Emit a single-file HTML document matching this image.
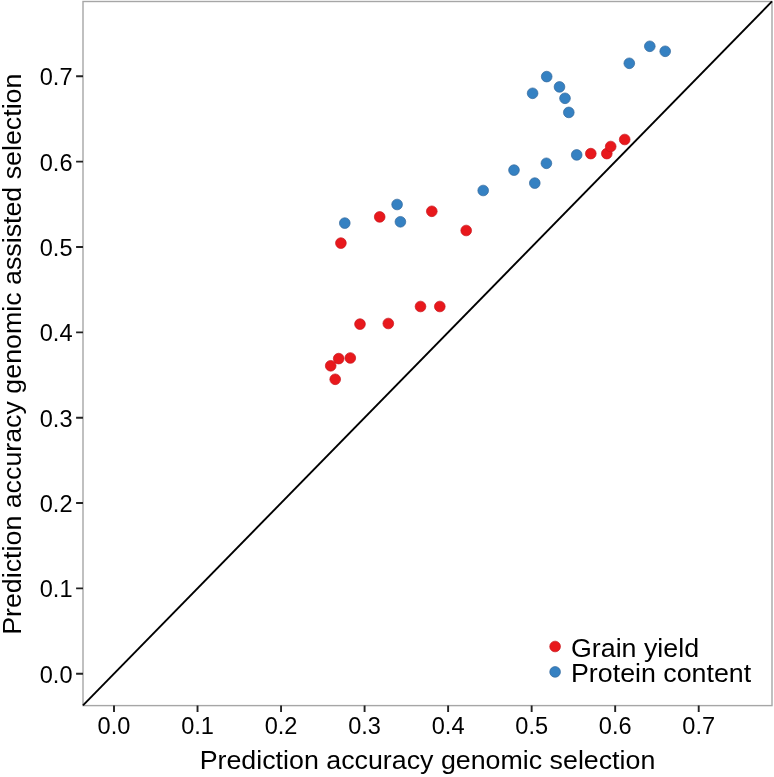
<!DOCTYPE html>
<html><head><meta charset="utf-8"><style>
html,body{margin:0;padding:0;background:#fff;overflow:hidden}
svg{display:block;will-change:transform}
text{font-family:"Liberation Sans",sans-serif;fill:#000}
</style></head><body>
<svg width="774" height="777" viewBox="0 0 774 777">
<rect x="0" y="0" width="774" height="777" fill="#fff"/>
<rect x="83.0" y="1.5" width="689.0" height="704.1" fill="none" stroke="#a6a6a6" stroke-width="1.4"/>
<path d="M114.00 705.60V712.00 M83.00 673.70H76.10 M197.53 705.60V712.00 M83.00 588.36H76.10 M281.06 705.60V712.00 M83.00 503.02H76.10 M364.59 705.60V712.00 M83.00 417.68H76.10 M448.12 705.60V712.00 M83.00 332.34H76.10 M531.65 705.60V712.00 M83.00 247.00H76.10 M615.18 705.60V712.00 M83.00 161.66H76.10 M698.71 705.60V712.00 M83.00 76.32H76.10" stroke="#222" stroke-width="1.9" fill="none"/>
<path d="M83.0 705.37L772.0 1.44" stroke="#000" stroke-width="1.9" fill="none"/>
<circle cx="340.9" cy="243.1" r="5.35" fill="#E8181C" stroke="#c8161c" stroke-width="0.7"/>
<circle cx="379.7" cy="216.9" r="5.35" fill="#E8181C" stroke="#c8161c" stroke-width="0.7"/>
<circle cx="431.8" cy="211.3" r="5.35" fill="#E8181C" stroke="#c8161c" stroke-width="0.7"/>
<circle cx="466.2" cy="230.5" r="5.35" fill="#E8181C" stroke="#c8161c" stroke-width="0.7"/>
<circle cx="360.0" cy="324.1" r="5.35" fill="#E8181C" stroke="#c8161c" stroke-width="0.7"/>
<circle cx="388.3" cy="323.5" r="5.35" fill="#E8181C" stroke="#c8161c" stroke-width="0.7"/>
<circle cx="420.5" cy="306.5" r="5.35" fill="#E8181C" stroke="#c8161c" stroke-width="0.7"/>
<circle cx="439.8" cy="306.5" r="5.35" fill="#E8181C" stroke="#c8161c" stroke-width="0.7"/>
<circle cx="338.7" cy="358.6" r="5.35" fill="#E8181C" stroke="#c8161c" stroke-width="0.7"/>
<circle cx="350.3" cy="358.0" r="5.35" fill="#E8181C" stroke="#c8161c" stroke-width="0.7"/>
<circle cx="330.7" cy="365.8" r="5.35" fill="#E8181C" stroke="#c8161c" stroke-width="0.7"/>
<circle cx="335.2" cy="379.3" r="5.35" fill="#E8181C" stroke="#c8161c" stroke-width="0.7"/>
<circle cx="590.8" cy="153.6" r="5.35" fill="#E8181C" stroke="#c8161c" stroke-width="0.7"/>
<circle cx="606.8" cy="153.6" r="5.35" fill="#E8181C" stroke="#c8161c" stroke-width="0.7"/>
<circle cx="610.7" cy="146.5" r="5.35" fill="#E8181C" stroke="#c8161c" stroke-width="0.7"/>
<circle cx="624.7" cy="139.5" r="5.35" fill="#E8181C" stroke="#c8161c" stroke-width="0.7"/>
<circle cx="344.8" cy="223.1" r="5.35" fill="#3581C2" stroke="#33699c" stroke-width="0.7"/>
<circle cx="397.1" cy="204.5" r="5.35" fill="#3581C2" stroke="#33699c" stroke-width="0.7"/>
<circle cx="400.4" cy="221.8" r="5.35" fill="#3581C2" stroke="#33699c" stroke-width="0.7"/>
<circle cx="483.2" cy="190.5" r="5.35" fill="#3581C2" stroke="#33699c" stroke-width="0.7"/>
<circle cx="514.0" cy="170.1" r="5.35" fill="#3581C2" stroke="#33699c" stroke-width="0.7"/>
<circle cx="534.8" cy="183.1" r="5.35" fill="#3581C2" stroke="#33699c" stroke-width="0.7"/>
<circle cx="546.4" cy="163.3" r="5.35" fill="#3581C2" stroke="#33699c" stroke-width="0.7"/>
<circle cx="576.7" cy="154.9" r="5.35" fill="#3581C2" stroke="#33699c" stroke-width="0.7"/>
<circle cx="532.6" cy="93.3" r="5.35" fill="#3581C2" stroke="#33699c" stroke-width="0.7"/>
<circle cx="546.7" cy="76.6" r="5.35" fill="#3581C2" stroke="#33699c" stroke-width="0.7"/>
<circle cx="559.5" cy="86.9" r="5.35" fill="#3581C2" stroke="#33699c" stroke-width="0.7"/>
<circle cx="565.0" cy="98.3" r="5.35" fill="#3581C2" stroke="#33699c" stroke-width="0.7"/>
<circle cx="568.8" cy="112.4" r="5.35" fill="#3581C2" stroke="#33699c" stroke-width="0.7"/>
<circle cx="629.3" cy="63.3" r="5.35" fill="#3581C2" stroke="#33699c" stroke-width="0.7"/>
<circle cx="649.8" cy="46.3" r="5.35" fill="#3581C2" stroke="#33699c" stroke-width="0.7"/>
<circle cx="665.2" cy="51.3" r="5.35" fill="#3581C2" stroke="#33699c" stroke-width="0.7"/>
<text transform="translate(114.00 734) scale(0.975 1)" text-anchor="middle" font-size="24.2">0.0</text>
<text transform="translate(72.5 682.80) scale(0.975 1)" text-anchor="end" font-size="24.2">0.0</text>
<text transform="translate(197.53 734) scale(0.975 1)" text-anchor="middle" font-size="24.2">0.1</text>
<text transform="translate(72.5 597.46) scale(0.975 1)" text-anchor="end" font-size="24.2">0.1</text>
<text transform="translate(281.06 734) scale(0.975 1)" text-anchor="middle" font-size="24.2">0.2</text>
<text transform="translate(72.5 512.12) scale(0.975 1)" text-anchor="end" font-size="24.2">0.2</text>
<text transform="translate(364.59 734) scale(0.975 1)" text-anchor="middle" font-size="24.2">0.3</text>
<text transform="translate(72.5 426.78) scale(0.975 1)" text-anchor="end" font-size="24.2">0.3</text>
<text transform="translate(448.12 734) scale(0.975 1)" text-anchor="middle" font-size="24.2">0.4</text>
<text transform="translate(72.5 341.44) scale(0.975 1)" text-anchor="end" font-size="24.2">0.4</text>
<text transform="translate(531.65 734) scale(0.975 1)" text-anchor="middle" font-size="24.2">0.5</text>
<text transform="translate(72.5 256.10) scale(0.975 1)" text-anchor="end" font-size="24.2">0.5</text>
<text transform="translate(615.18 734) scale(0.975 1)" text-anchor="middle" font-size="24.2">0.6</text>
<text transform="translate(72.5 170.76) scale(0.975 1)" text-anchor="end" font-size="24.2">0.6</text>
<text transform="translate(698.71 734) scale(0.975 1)" text-anchor="middle" font-size="24.2">0.7</text>
<text transform="translate(72.5 85.42) scale(0.975 1)" text-anchor="end" font-size="24.2">0.7</text>
<text transform="translate(427.5 768.5) scale(1 0.97)" x="0" y="0" text-anchor="middle" font-size="26.8">Prediction accuracy genomic selection</text>
<text transform="translate(20.8 354.2) rotate(-90) scale(1 0.955)" x="0" y="0" text-anchor="middle" font-size="26.8">Prediction accuracy genomic assisted selection</text>
<circle cx="555.1" cy="646.5" r="5.35" fill="#E8181C" stroke="#c8161c" stroke-width="0.7"/>
<circle cx="555.1" cy="671.9" r="5.35" fill="#3581C2" stroke="#33699c" stroke-width="0.7"/>
<text transform="translate(571 656.5) scale(1 0.97)" font-size="26.8">Grain yield</text>
<text transform="translate(571 681.7) scale(1 0.97)" font-size="26.8">Protein content</text>
</svg>
</body></html>
